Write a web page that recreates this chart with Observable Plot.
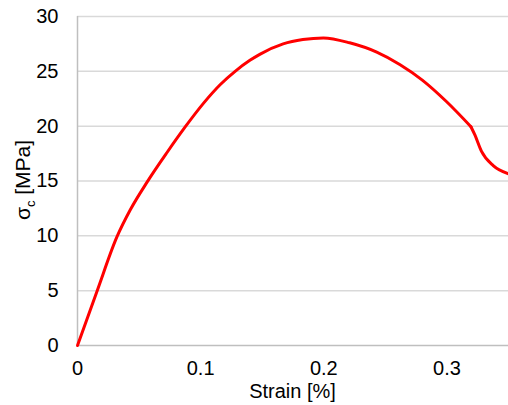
<!DOCTYPE html>
<html>
<head>
<meta charset="utf-8">
<script src="https://cdn.jsdelivr.net/npm/d3@7"></script>
<script src="https://cdn.jsdelivr.net/npm/@observablehq/plot@0.6"></script>
<style>
  html, body { margin: 0; padding: 0; background: #fff; }
  #chart { width: 508px; height: 405px; }
</style>
</head>
<body>
<div id="chart"></div>
<script>
const strain = [0, 0.016, 0.032, 0.043, 0.0565, 0.0727, 0.0876, 0.1024, 0.116, 0.128, 0.140, 0.148, 0.167, 0.183, 0.1997, 0.221, 0.243, 0.262, 0.280, 0.300, 0.3195, 0.3227, 0.3281, 0.3376, 0.35];
const stress = [0, 5.0, 9.9, 12.4, 14.9, 17.6, 19.95, 22.1, 23.8, 25.0, 26.0, 26.55, 27.5, 27.9, 28.05, 27.6, 26.75, 25.6, 24.2, 22.2, 19.95, 19.2, 17.7, 16.4, 15.65];
const kinkStrain = 0.3195;
const xTicks = [0, 0.1, 0.2, 0.3];
const yTicks = [0, 5, 10, 15, 20, 25, 30];
const xLabel = "Strain [%]";

const data = strain.map((s, i) => ({strain: s, stress: stress[i]}));

const lineOpts = {x: "strain", y: "stress", stroke: "#ff0000", strokeWidth: 3, curve: "monotone-x"};

const chart = Plot.plot({
  width: 508,
  height: 405,
  marginLeft: 77,
  marginRight: 0,
  marginTop: 16,
  marginBottom: 60,
  style: {fontFamily: "'Liberation Sans', Arial, sans-serif", fontSize: "20px", color: "#000", background: "#fff"},
  x: {domain: [0, 0.35]},
  y: {domain: [0, 30]},
  marks: [
    Plot.ruleY(yTicks.slice(1), {stroke: "#d9d9d9", strokeWidth: 1.5}),
    Plot.ruleY([0], {stroke: "#bfbfbf", strokeWidth: 1.5}),
    Plot.ruleX([0], {stroke: "#bfbfbf", strokeWidth: 1.5}),
    Plot.axisY({ticks: yTicks, tickSize: 0, tickPadding: 19, label: null, tickFormat: d => String(d), fontSize: 20}),
    Plot.axisX({ticks: xTicks, tickSize: 0, tickPadding: 15, label: null, tickFormat: d => String(d), fontSize: 20}),
    Plot.line(data.filter(d => d.strain <= kinkStrain), lineOpts),
    Plot.line(data.filter(d => d.strain >= kinkStrain), lineOpts)
  ]
});
document.getElementById("chart").appendChild(chart);

const svg = d3.select(chart);
svg.append("text")
  .attr("x", 292.5).attr("y", 398)
  .attr("text-anchor", "middle")
  .attr("font-size", 20)
  .attr("fill", "#000")
  .text(xLabel);

const yl = svg.append("text")
  .attr("transform", "translate(30,180) rotate(-90)")
  .attr("text-anchor", "middle")
  .attr("font-size", 21)
  .attr("fill", "#000");
yl.append("tspan").text("σ");
yl.append("tspan").attr("font-size", 13).attr("dy", 5).text("c");
yl.append("tspan").attr("dy", -5).text(" [MPa]");
</script>
</body>
</html>
